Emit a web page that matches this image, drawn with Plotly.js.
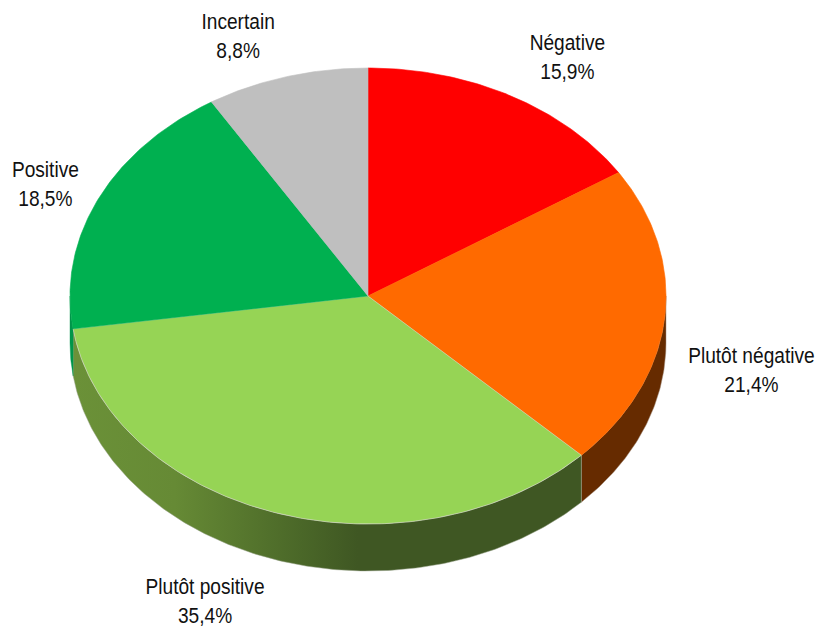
<!DOCTYPE html>
<html>
<head>
<meta charset="utf-8">
<script src="https://cdn.plot.ly/plotly-3.0.1.min.js"></script>
<style>html,body{margin:0;padding:0;background:#fff}#chart{width:825px;height:627px}</style>
</head>
<body>
<div id="chart"></div>
<script>
const categories = ["Négative", "Plutôt négative", "Plutôt positive", "Positive", "Incertain"];
const shares = [15.9, 21.4, 35.4, 18.5, 8.8];
const shareLabels = ["15,9%", "21,4%", "35,4%", "18,5%", "8,8%"];
const faceColors = ["#ff0000", "#ff6a00", "#96d455", "#00b050", "#bfbfbf"];
const labelX = [567, 751, 205, 45, 238];
const labelY = [57, 370, 601, 184, 36];

const cx = 368, cy = 296, rx = 298, ry = 228, depth = 47;
const pt = (deg, dy) => {
  const t = deg * Math.PI / 180;
  return [cx + rx * Math.sin(t), cy - ry * Math.cos(t) + (dy || 0)];
};
const arc = (a, b, dy) => {
  const n = Math.max(2, Math.ceil(Math.abs(b - a) * 1.5));
  const out = [];
  for (let i = 0; i <= n; i++) out.push(pt(a + (b - a) * i / n, dy));
  return out;
};
const poly = (pts, extra) => Object.assign({
  type: "scatter", mode: "lines", fill: "toself",
  x: pts.map(p => p[0]), y: pts.map(p => p[1]),
  hoverinfo: "skip", showlegend: false
}, extra);

const edge = "#d4d6c4";
let acc = 0;
const slices = shares.map(v => {
  const a = acc * 3.6; acc += v; return [a, acc * 3.6];
});

const traces = [];
const wall = (a, b) => arc(a, b, 0).concat(arc(b, a, depth)).concat([pt(a, 0)]);
traces.push(poly(wall(90, slices[1][1]), {
  fillcolor: "#662b00", line: {color: "#a08a78", width: 0.5}, name: categories[1]
}));
traces.push(poly(wall(slices[2][0], slices[2][1]), {
  fillcolor: "#3f5723",
  fillgradient: {type: "horizontal", colorscale: [
    [0, "#6b9138"], [0.2, "#668a35"], [0.35, "#55752d"], [0.45, "#4a6728"], [0.56, "#3f5723"], [1, "#3f5723"]
  ]},
  line: {color: "#9aa58c", width: 0.5}, name: categories[2]
}));
traces.push(poly(wall(slices[3][0], 270), {
  fillcolor: "#00964a", line: {color: "#00964a", width: 0.4}, name: categories[3]
}));
slices.forEach((s, i) => {
  const pts = [[cx, cy]].concat(arc(s[0], s[1], 0)).concat([[cx, cy]]);
  traces.push(poly(pts, {
    fillcolor: faceColors[i], line: {color: i === 2 ? edge : faceColors[i], width: 0.6},
    name: categories[i]
  }));
});

const annotations = categories.map((c, i) => ({
  x: labelX[i], y: labelY[i], xref: "x", yref: "y",
  text: c + "<br>" + shareLabels[i], showarrow: false,
  align: "center", xanchor: "center", yanchor: "middle"
}));

const layout = {
  width: 825, height: 627,
  margin: {l: 0, r: 0, t: 0, b: 0},
  paper_bgcolor: "#fff", plot_bgcolor: "#fff",
  xaxis: {range: [0, 825], visible: false, fixedrange: true},
  yaxis: {range: [627, 0], visible: false, fixedrange: true},
  font: {family: '"Liberation Sans", sans-serif', size: 22.5, color: "#111"},
  annotations: annotations,
  showlegend: false
};
Plotly.newPlot("chart", traces, layout, {displayModeBar: false, staticPlot: true}).then(gd => {
  // the reference uses a condensed face: narrow the real text horizontally
  gd.querySelectorAll(".annotation-text").forEach(t => {
    const b = t.getBBox();
    const c = b.x + b.width / 2;
    t.setAttribute("transform", `translate(${c},0) scale(0.85,1) translate(${-c},0)`);
  });
});
</script>
</body>
</html>
